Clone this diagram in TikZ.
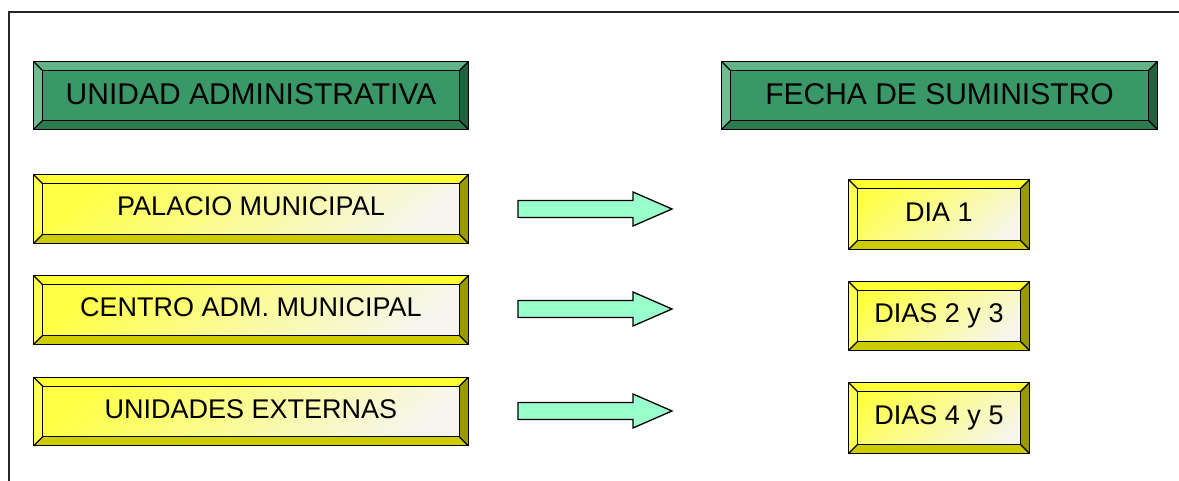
\documentclass[tikz,border=0pt]{standalone}
\usepackage{fontspec}
\setmainfont{Liberation Sans}

\definecolor{facegreen}{RGB}{58,152,104}
\definecolor{topgreen}{RGB}{96,180,136}
\definecolor{leftgreen}{RGB}{110,190,146}
\definecolor{botgreen}{RGB}{44,124,80}
\definecolor{rightgreen}{RGB}{34,96,62}
\definecolor{faceyellow}{RGB}{255,255,70}
\definecolor{paleyellow}{RGB}{246,246,238}
\definecolor{topyellow}{RGB}{255,255,51}
\definecolor{leftyellow}{RGB}{255,255,90}
\definecolor{botyellow}{RGB}{204,204,0}
\definecolor{rightyellow}{RGB}{153,153,0}
\definecolor{arrowfill}{RGB}{153,255,204}

% bevel round a box node: #1 node, #2 top, #3 left, #4 bottom, #5 right
\newcommand{\bevel}[5]{%
  \fill [#2] (#1.north west) -- (#1.north east) -- ([shift={(-9pt,-9pt)}]#1.north east) -- ([shift={(9pt,-9pt)}]#1.north west) -- cycle;
  \fill [#3] (#1.north west) -- (#1.south west) -- ([shift={(9pt,9pt)}]#1.south west) -- ([shift={(9pt,-9pt)}]#1.north west) -- cycle;
  \fill [#4] (#1.south west) -- (#1.south east) -- ([shift={(-9pt,9pt)}]#1.south east) -- ([shift={(9pt,9pt)}]#1.south west) -- cycle;
  \fill [#5] (#1.north east) -- (#1.south east) -- ([shift={(-9pt,9pt)}]#1.south east) -- ([shift={(-9pt,-9pt)}]#1.north east) -- cycle;
  \draw [edge] ([shift={(9pt,9pt)}]#1.south west) rectangle ([shift={(-9pt,-9pt)}]#1.north east);
  \draw [edge] (#1.north west) -- ([shift={(9pt,-9pt)}]#1.north west);
  \draw [edge] (#1.north east) -- ([shift={(-9pt,-9pt)}]#1.north east);
  \draw [edge] (#1.south west) -- ([shift={(9pt,9pt)}]#1.south west);
  \draw [edge] (#1.south east) -- ([shift={(-9pt,9pt)}]#1.south east);
  \draw [edge] (#1.south west) rectangle (#1.north east);
}

\begin{document}
\begin{tikzpicture}[x=1pt, y=1pt,
    edge/.style={line width=1.3pt, black},
    headbox/.style={fill=facegreen, inner sep=0pt, font=\fontsize{30}{30}\selectfont,
      text height=21.5pt, text depth=4pt, minimum height=67pt},
    itembox/.style={shade, top color=faceyellow, bottom color=paleyellow, shading angle=40,
      inner sep=0pt, font=\fontsize{27}{27}\selectfont,
      text height=19.3pt, text depth=6pt, minimum height=68pt},
    blockarrow/.style={fill=arrowfill, line width=1.3pt, line join=miter}]
  \useasboundingbox (0, 0) rectangle (1179, 481);
  \draw [line width=1.4pt, black!85] (9, 0) -- (9, 469) -- (1179, 469);

  % headings
  \node [headbox, minimum width=434pt] (unidad) at (251, 385.5) {UNIDAD ADMINISTRATIVA};
  \node [headbox, minimum width=435pt] (fecha) at (939.5, 385.5) {FECHA DE SUMINISTRO};
  \bevel{unidad}{topgreen}{leftgreen}{botgreen}{rightgreen}
  \bevel{fecha}{topgreen}{leftgreen}{botgreen}{rightgreen}

  % units
  \node [itembox, minimum width=434pt] (palacio) at (251, 272) {PALACIO MUNICIPAL};
  \node [itembox, minimum width=434pt] (centro) at (251, 171) {CENTRO ADM. MUNICIPAL};
  \node [itembox, minimum width=434pt] (externas) at (251, 69.5) {UNIDADES EXTERNAS};
  \bevel{palacio}{topyellow}{leftyellow}{botyellow}{rightyellow}
  \bevel{centro}{topyellow}{leftyellow}{botyellow}{rightyellow}
  \bevel{externas}{topyellow}{leftyellow}{botyellow}{rightyellow}

  % days
  \node [itembox, minimum width=180pt, minimum height=69pt] (dia1) at (939, 266.5) {DIA 1};
  \node [itembox, minimum width=180pt, minimum height=68pt] (dias23) at (939, 165) {DIAS 2 y 3};
  \node [itembox, minimum width=180pt, minimum height=70pt] (dias45) at (939, 63) {DIAS 4 y 5};
  \bevel{dia1}{topyellow}{leftyellow}{botyellow}{rightyellow}
  \bevel{dias23}{topyellow}{leftyellow}{botyellow}{rightyellow}
  \bevel{dias45}{topyellow}{leftyellow}{botyellow}{rightyellow}

  % arrows
  \coordinate (flecha1) at (595, 272);
  \coordinate (flecha2) at (595, 172);
  \coordinate (flecha3) at (595, 70);
  \foreach \f in {flecha1, flecha2, flecha3}
    \draw [blockarrow] (\f) ++(-77, -8.5) -- ++(115, 0) -- ++(0, -8.5) -- ++(39, 17)
      -- ++(-39, 17) -- ++(0, -8.5) -- ++(-115, 0) -- cycle;
\end{tikzpicture}
\end{document}
